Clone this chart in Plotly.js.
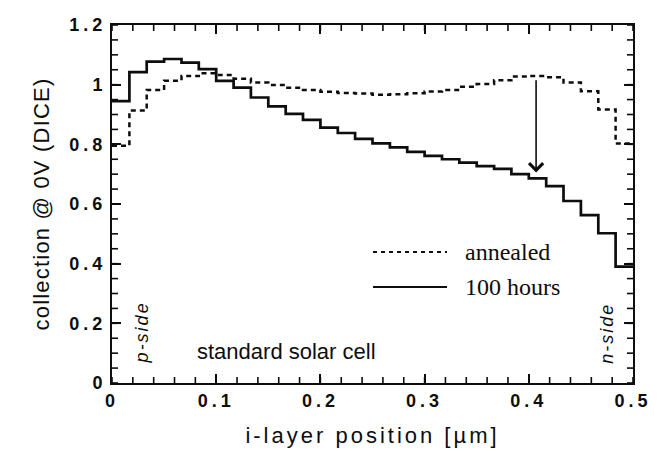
<!DOCTYPE html>
<html>
<head>
<meta charset="utf-8">
<script src="https://cdn.plot.ly/plotly-3.0.1.min.js"></script>
<style>
  html, body { margin: 0; padding: 0; background: #fff; }
  #chart { width: 662px; height: 451px; }
  .xtick text, .ytick text { letter-spacing: 4px; }
  .g-xtitle text { letter-spacing: 3px; }
  .g-ytitle text { letter-spacing: 1.2px; }
  g.annotation[data-index="3"] text, g.annotation[data-index="4"] text { letter-spacing: 2px; }
</style>
</head>
<body>
<div id="chart"></div>
<script>
// i-layer position bin edges [µm] (30 bins across the 0.5 µm i-layer)
const binEdges = [0, 0.0167, 0.0333, 0.05, 0.0667, 0.0833, 0.1, 0.1167, 0.1333, 0.15,
  0.1667, 0.1833, 0.2, 0.2167, 0.2333, 0.25, 0.2667, 0.2833, 0.3, 0.3167,
  0.3333, 0.35, 0.3667, 0.3833, 0.4, 0.4167, 0.4333, 0.45, 0.4667, 0.4833, 0.5];

// collection @ 0V (DICE), one value per bin
const annealed = [0.795, 0.913, 0.982, 1.013, 1.029, 1.038, 1.032, 1.020, 1.007, 0.999,
  0.990, 0.982, 0.976, 0.972, 0.970, 0.966, 0.968, 0.971, 0.977, 0.982,
  0.993, 1.002, 1.015, 1.027, 1.029, 1.025, 1.007, 0.978, 0.917, 0.803];

const hours100 = [0.945, 1.042, 1.077, 1.086, 1.074, 1.052, 1.013, 0.990, 0.957, 0.927,
  0.902, 0.882, 0.856, 0.838, 0.818, 0.803, 0.790, 0.775, 0.761, 0.750,
  0.739, 0.727, 0.718, 0.700, 0.686, 0.660, 0.610, 0.563, 0.502, 0.390];

const seriesNames = ['annealed', '100 hours'];

// arrow marking the degradation at 0.4 µm
const arrowX = 0.407;
const arrowFrom = 1.020;
const arrowTo = 0.706;

function stepY(v) { return v.concat([v[v.length - 1]]); }

const ink = '#0d0d0d';
const sans = 'Liberation Sans, Arial, sans-serif';
const serif = 'Liberation Serif, Times New Roman, serif';

const traces = [
  { x: binEdges, y: stepY(annealed), name: seriesNames[0], type: 'scatter', mode: 'lines',
    line: { shape: 'hv', color: ink, width: 2.5, dash: '5px,4px' }, showlegend: false },
  { x: binEdges, y: stepY(hours100), name: seriesNames[1], type: 'scatter', mode: 'lines',
    line: { shape: 'hv', color: ink, width: 2.7 }, showlegend: false }
];

const axisCommon = {
  showline: true, linecolor: ink, linewidth: 2, mirror: 'ticks',
  ticks: 'inside', ticklen: 9, tickwidth: 1.8, tickcolor: ink,
  showgrid: false, zeroline: false, tickmode: 'linear', tick0: 0,
  tickfont: { family: sans, size: 18, color: ink, weight: 'bold' }
};

// fine (minor) inward ticks on all four sides, drawn as axis decorations
const minorTickShapes = [];
const minorLen = 6;
for (let i = 0; i <= 25; i++) {            // every 0.02 µm along x
  const v = i * 0.02;
  [[0, minorLen], [1, -minorLen]].forEach(function (s) {
    minorTickShapes.push({ type: 'line', layer: 'above', xref: 'x', yref: 'paper',
      ysizemode: 'pixel', yanchor: s[0], x0: v, x1: v, y0: 0, y1: s[1],
      line: { color: ink, width: 1.6 } });
  });
}
for (let j = 0; j <= 24; j++) {            // every 0.05 along y
  const v = j * 0.05;
  [[0, minorLen], [1, -minorLen]].forEach(function (s) {
    minorTickShapes.push({ type: 'line', layer: 'above', xref: 'paper', yref: 'y',
      xsizemode: 'pixel', xanchor: s[0], x0: 0, x1: s[1], y0: v, y1: v,
      line: { color: ink, width: 1.6 } });
  });
}

const layout = {
  width: 662, height: 451,
  margin: { l: 112, r: 29, t: 25, b: 68 },
  paper_bgcolor: '#fff', plot_bgcolor: '#fff',
  showlegend: false,
  xaxis: Object.assign({}, axisCommon, {
    range: [0, 0.5], dtick: 0.1,
    title: { text: 'i-layer position [µm]', font: { family: sans, size: 22, color: ink }, standoff: 18 }
  }),
  yaxis: Object.assign({}, axisCommon, {
    range: [0, 1.2], dtick: 0.2,
    title: { text: 'collection @ 0V (DICE)', font: { family: sans, size: 22, color: ink }, standoff: 14 }
  }),
  shapes: [
    { type: 'line', xref: 'paper', yref: 'paper', x0: 0.501, x1: 0.643, y0: 0.366, y1: 0.366,
      line: { color: ink, width: 2, dash: '4px,4px' } },
    { type: 'line', xref: 'paper', yref: 'paper', x0: 0.501, x1: 0.643, y0: 0.268, y1: 0.268,
      line: { color: ink, width: 2 } }
  ].concat(minorTickShapes),
  annotations: [
    { xref: 'paper', yref: 'paper', x: 0.674, y: 0.366, xanchor: 'left', yanchor: 'middle',
      text: seriesNames[0], showarrow: false, font: { family: serif, size: 24, color: ink } },
    { xref: 'paper', yref: 'paper', x: 0.674, y: 0.268, xanchor: 'left', yanchor: 'middle',
      text: seriesNames[1], showarrow: false, font: { family: serif, size: 24, color: ink } },
    { xref: 'paper', yref: 'paper', x: 0.334, y: 0.087, xanchor: 'center', yanchor: 'middle',
      text: 'standard solar cell', showarrow: false, font: { family: sans, size: 22, color: ink } },
    { xref: 'paper', yref: 'paper', x: 0.058, y: 0.142, xanchor: 'center', yanchor: 'middle',
      text: 'p-side', textangle: -90, showarrow: false,
      font: { family: sans, size: 18, color: ink, style: 'italic' } },
    { xref: 'paper', yref: 'paper', x: 0.950, y: 0.140, xanchor: 'center', yanchor: 'middle',
      text: 'n-side', textangle: -90, showarrow: false,
      font: { family: sans, size: 18, color: ink, style: 'italic' } },
    { x: arrowX, y: arrowTo, xref: 'x', yref: 'y', ax: arrowX, ay: arrowFrom, axref: 'x', ayref: 'y',
      showarrow: true, arrowhead: 4, arrowsize: 1.7, arrowwidth: 1.6, arrowcolor: ink, standoff: 0, text: '' }
  ]
};

Plotly.newPlot('chart', traces, layout, { staticPlot: true, displayModeBar: false });
</script>
</body>
</html>
